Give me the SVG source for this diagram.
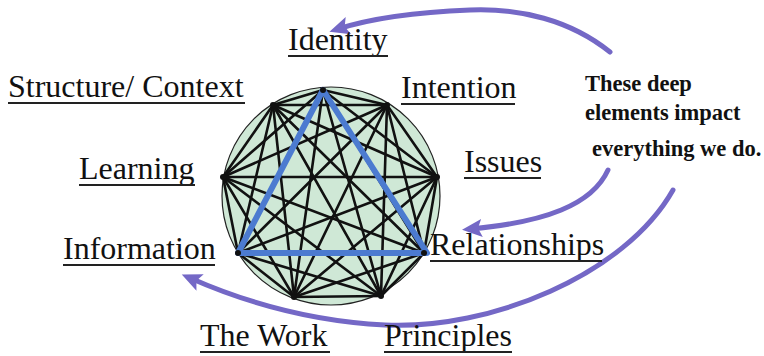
<svg xmlns="http://www.w3.org/2000/svg" width="764" height="356" viewBox="0 0 764 356">
<style>
.lbl{font-family:"Liberation Serif","Times New Roman",serif;font-size:32px;fill:#111}
.ul{stroke:#222;stroke-width:1.8}
.note{font-family:"Liberation Serif","Times New Roman",serif;font-size:22.5px;font-weight:bold;fill:#111}
.e{stroke:#111;stroke-width:2.6;stroke-linecap:round}
.tri{fill:none;stroke:#4c7bd0;stroke-width:6;stroke-linejoin:round;stroke-linecap:round}
.arr{fill:none;stroke:#7468c6;stroke-width:5;stroke-linecap:round}
.dot{fill:#111}
</style>
<defs>
<marker id="ah" markerUnits="userSpaceOnUse" markerWidth="24" markerHeight="20" refX="11" refY="9" orient="auto">
<path d="M0,0 L20,9 L0,18 L4,9 z" fill="#7468c6"/>
</marker>
</defs>
<rect width="764" height="356" fill="#ffffff"/>
<g id="wheel">
<circle cx="331" cy="196" r="109" fill="#cfe8d6" stroke="#222" stroke-width="1.2"/>
</g>
<g id="connectors">
<line class="e" x1="323" y1="90" x2="387" y2="105"/>
<line class="e" x1="323" y1="90" x2="437" y2="177"/>
<line class="e" x1="323" y1="90" x2="424" y2="253"/>
<line class="e" x1="323" y1="90" x2="381" y2="296"/>
<line class="e" x1="323" y1="90" x2="294" y2="297"/>
<line class="e" x1="323" y1="90" x2="238" y2="253"/>
<line class="e" x1="323" y1="90" x2="223" y2="177"/>
<line class="e" x1="323" y1="90" x2="273" y2="105"/>
<line class="e" x1="387" y1="105" x2="437" y2="177"/>
<line class="e" x1="387" y1="105" x2="424" y2="253"/>
<line class="e" x1="387" y1="105" x2="381" y2="296"/>
<line class="e" x1="387" y1="105" x2="294" y2="297"/>
<line class="e" x1="387" y1="105" x2="238" y2="253"/>
<line class="e" x1="387" y1="105" x2="223" y2="177"/>
<line class="e" x1="387" y1="105" x2="273" y2="105"/>
<line class="e" x1="437" y1="177" x2="424" y2="253"/>
<line class="e" x1="437" y1="177" x2="381" y2="296"/>
<line class="e" x1="437" y1="177" x2="294" y2="297"/>
<line class="e" x1="437" y1="177" x2="238" y2="253"/>
<line class="e" x1="437" y1="177" x2="223" y2="177"/>
<line class="e" x1="437" y1="177" x2="273" y2="105"/>
<line class="e" x1="424" y1="253" x2="381" y2="296"/>
<line class="e" x1="424" y1="253" x2="294" y2="297"/>
<line class="e" x1="424" y1="253" x2="238" y2="253"/>
<line class="e" x1="424" y1="253" x2="223" y2="177"/>
<line class="e" x1="424" y1="253" x2="273" y2="105"/>
<line class="e" x1="381" y1="296" x2="294" y2="297"/>
<line class="e" x1="381" y1="296" x2="238" y2="253"/>
<line class="e" x1="381" y1="296" x2="223" y2="177"/>
<line class="e" x1="381" y1="296" x2="273" y2="105"/>
<line class="e" x1="294" y1="297" x2="238" y2="253"/>
<line class="e" x1="294" y1="297" x2="223" y2="177"/>
<line class="e" x1="294" y1="297" x2="273" y2="105"/>
<line class="e" x1="238" y1="253" x2="223" y2="177"/>
<line class="e" x1="238" y1="253" x2="273" y2="105"/>
<line class="e" x1="223" y1="177" x2="273" y2="105"/>
<polygon class="tri" points="323,90 427,253 238,253"/>
<path class="arr" marker-end="url(#ah)" d="M610,52 C570,20 520,8 470,10 C420,12 372,18 338,29"/>
<path class="arr" marker-end="url(#ah)" d="M608,170 C592,205 545,222 471,229"/>
<path class="arr" marker-end="url(#ah)" d="M673,190 C625,275 490,330 385,325 C305,321 240,300 190,278"/>
</g>
<g id="identity"><circle class="dot" cx="323" cy="90" r="3"/><text class="lbl" x="288" y="50">Identity</text><line class="ul" x1="288" y1="56" x2="388" y2="56"/></g>
<g id="intention"><circle class="dot" cx="387" cy="105" r="3"/><text class="lbl" x="401" y="98">Intention</text><line class="ul" x1="401" y1="104" x2="515" y2="104"/></g>
<g id="issues"><circle class="dot" cx="437" cy="177" r="3"/><text class="lbl" x="464" y="172">Issues</text><line class="ul" x1="464" y1="178" x2="541" y2="178"/></g>
<g id="relationships"><circle class="dot" cx="424" cy="253" r="3"/><text class="lbl" x="430" y="255">Relationships</text><line class="ul" x1="430" y1="261" x2="602" y2="261"/></g>
<g id="principles"><circle class="dot" cx="381" cy="296" r="3"/><text class="lbl" x="384" y="346">Principles</text><line class="ul" x1="384" y1="352" x2="512" y2="352"/></g>
<g id="thework"><circle class="dot" cx="294" cy="297" r="3"/><text class="lbl" x="200" y="346">The Work</text><line class="ul" x1="200" y1="352" x2="330" y2="352"/></g>
<g id="information"><circle class="dot" cx="238" cy="253" r="3"/><text class="lbl" x="63" y="259">Information</text><line class="ul" x1="63" y1="265" x2="215" y2="265"/></g>
<g id="learning"><circle class="dot" cx="223" cy="177" r="3"/><text class="lbl" x="79" y="179">Learning</text><line class="ul" x1="79" y1="185" x2="195" y2="185"/></g>
<g id="structure"><circle class="dot" cx="273" cy="105" r="3"/><text class="lbl" x="8" y="97">Structure/ Context</text><line class="ul" x1="8" y1="103" x2="245" y2="103"/></g>
<g id="note">
<text class="note" x="585" y="91">These deep</text>
<text class="note" x="585" y="120">elements impact</text>
<text class="note" x="592" y="156">everything we do.</text>
</g>
</svg>
